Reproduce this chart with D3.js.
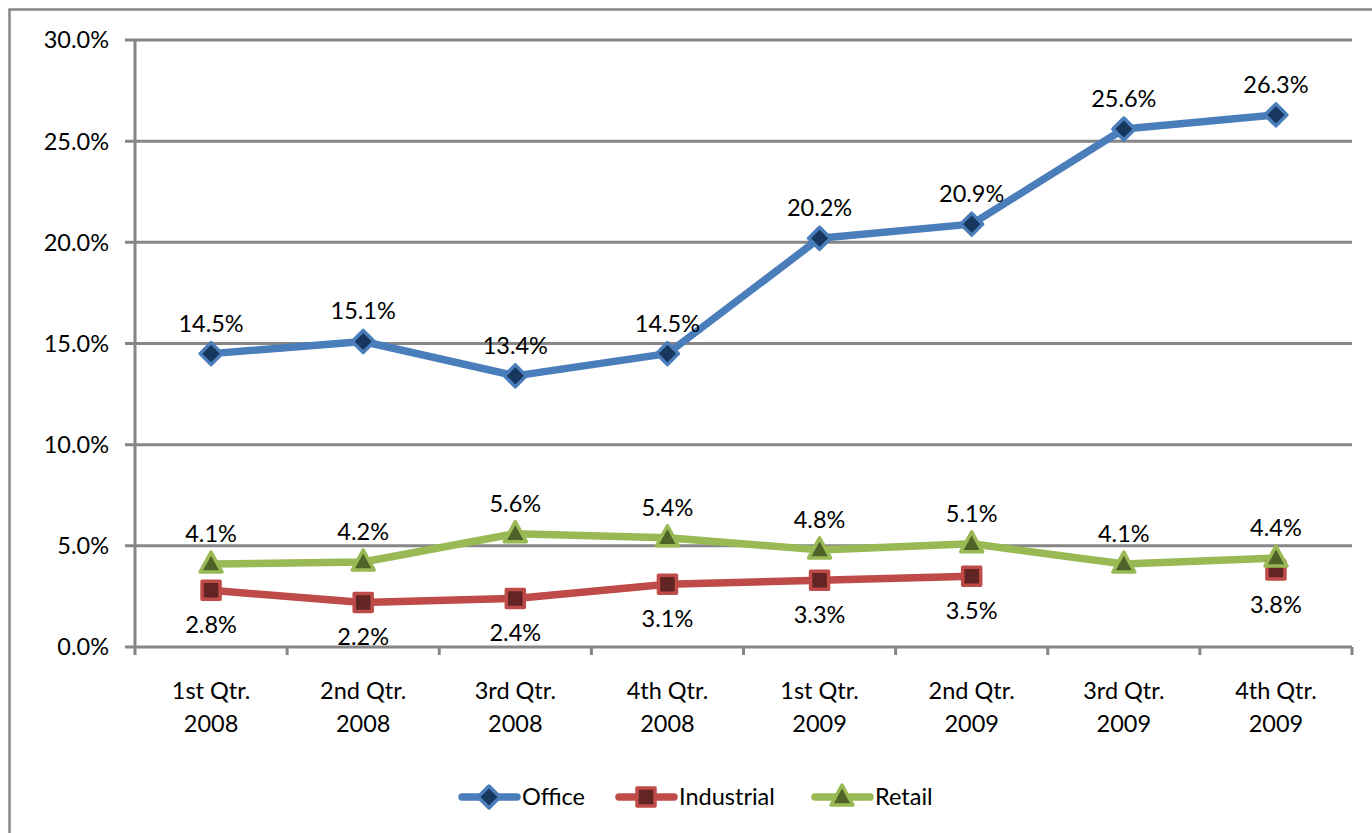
<!DOCTYPE html>
<html>
<head>
<meta charset="utf-8">
<script src="https://cdn.jsdelivr.net/npm/d3@7"></script>
<style>
  body { margin: 0; background: #fff; }
  svg text { font-family: "Lato", "Open Sans", sans-serif; fill: #000; }
</style>
</head>
<body>
<div id="chart"></div>
<script>
// data
var quarters = [["1st Qtr.", "2008"], ["2nd Qtr.", "2008"], ["3rd Qtr.", "2008"], ["4th Qtr.", "2008"],
                ["1st Qtr.", "2009"], ["2nd Qtr.", "2009"], ["3rd Qtr.", "2009"], ["4th Qtr.", "2009"]];
var office     = [14.5, 15.1, 13.4, 14.5, 20.2, 20.9, 25.6, 26.3];
var industrial = [2.8, 2.2, 2.4, 3.1, 3.3, 3.5, null, 3.8];
var retail     = [4.1, 4.2, 5.6, 5.4, 4.8, 5.1, 4.1, 4.4];
var yTicks     = [0, 5, 10, 15, 20, 25, 30];

var width = 1372, height = 833;
var margin = {left: 135, right: 20, top: 40, bottom: 186};

// Style setting
var grid_color = "#868686";
var font_size = "23.5px";
var line_width = 7.5;
var series = [
  {name: "Office", values: office, line: "#4a7ebb", fill: "#17375e", shape: "diamond", labelPos: "above"},
  {name: "Industrial", values: industrial, line: "#be4b48", fill: "#632523", shape: "square", labelPos: "below"},
  {name: "Retail", values: retail, line: "#98b954", fill: "#4f6228", shape: "triangle", labelPos: "above"}
];

var svg = d3.select("#chart").append("svg")
            .attr("width", width)
            .attr("height", height);

// outer frame
svg.append("rect")
   .attr("x", 9.5).attr("y", 9.5)
   .attr("width", width + 20).attr("height", height + 20)
   .attr("fill", "none").attr("stroke", grid_color).attr("stroke-width", 2.5);

var x = d3.scaleBand()
          .domain(d3.range(quarters.length))
          .range([margin.left, width - margin.right]);
var y = d3.scaleLinear()
          .domain([0, 30])
          .range([height - margin.bottom, margin.top]);

// gridlines + y ticks
svg.append("g").selectAll("line")
   .data(yTicks)
   .enter().append("line")
   .attr("x1", margin.left - 10).attr("x2", width - margin.right)
   .attr("y1", function(d) { return y(d); }).attr("y2", function(d) { return y(d); })
   .attr("stroke", grid_color).attr("stroke-width", 3);

svg.append("g").selectAll("text")
   .data(yTicks)
   .enter().append("text")
   .attr("x", margin.left - 26)
   .attr("y", function(d) { return y(d); })
   .attr("dy", "0.36em")
   .attr("text-anchor", "end")
   .style("font-size", font_size)
   .text(function(d) { return d.toFixed(1) + "%"; });

// y axis line
svg.append("line")
   .attr("x1", margin.left).attr("x2", margin.left)
   .attr("y1", y(30)).attr("y2", y(0) + 8)
   .attr("stroke", grid_color).attr("stroke-width", 3);

// x ticks at category boundaries
var bounds = d3.range(quarters.length + 1).map(function(i) {
  return i < quarters.length ? x(i) : x(quarters.length - 1) + x.bandwidth();
});
svg.append("g").selectAll("line")
   .data(bounds.slice(1))
   .enter().append("line")
   .attr("x1", function(d) { return d; }).attr("x2", function(d) { return d; })
   .attr("y1", y(0)).attr("y2", y(0) + 8)
   .attr("stroke", grid_color).attr("stroke-width", 3);

// x labels
var xl = svg.append("g").selectAll("text")
   .data(quarters)
   .enter().append("text")
   .attr("x", function(d, i) { return x(i) + x.bandwidth() / 2; })
   .attr("y", 699)
   .attr("text-anchor", "middle")
   .style("font-size", font_size);
xl.append("tspan").attr("x", function(d, i) { return x(i) + x.bandwidth() / 2; }).text(function(d) { return d[0]; });
xl.append("tspan").attr("x", function(d, i) { return x(i) + x.bandwidth() / 2; }).attr("dy", 33).text(function(d) { return d[1]; });

function markerPath(shape) {
  if (shape === "diamond") return "M0,-11L11,0L0,11L-11,0Z";
  if (shape === "square") return "M-9,-9H9V9H-9Z";
  return "M0,-12L11,8H-11Z";
}

var cx = function(i) { return x(i) + x.bandwidth() / 2; };

series.forEach(function(s) {
  var line = d3.line()
               .defined(function(d) { return d != null; })
               .x(function(d, i) { return cx(i); })
               .y(function(d) { return y(d); });

  svg.append("path")
     .datum(s.values)
     .attr("d", line)
     .attr("fill", "none")
     .attr("stroke", s.line)
     .attr("stroke-width", line_width)
     .attr("stroke-linejoin", "round")
     .attr("stroke-linecap", "round");
});

series.forEach(function(s) {
  var pts = s.values.map(function(v, i) { return {v: v, i: i}; })
                    .filter(function(d) { return d.v != null; });

  svg.append("g").selectAll("path")
     .data(pts)
     .enter().append("path")
     .attr("transform", function(d) { return "translate(" + cx(d.i) + "," + y(d.v) + ")"; })
     .attr("d", markerPath(s.shape))
     .attr("fill", s.fill)
     .attr("stroke", s.line)
     .attr("stroke-width", 3.5)
     .attr("stroke-linejoin", "round");
});

series.forEach(function(s) {
  var pts = s.values.map(function(v, i) { return {v: v, i: i}; })
                    .filter(function(d) { return d.v != null; });

  svg.append("g").selectAll("text")
     .data(pts)
     .enter().append("text")
     .attr("x", function(d) { return cx(d.i); })
     .attr("y", function(d) { return s.labelPos === "above" ? y(d.v) - 22 : y(d.v) + 43; })
     .attr("text-anchor", "middle")
     .style("font-size", font_size)
     .text(function(d) { return d.v.toFixed(1) + "%"; });
});

// legend
var legendX = [459, 616, 812];
var leg = svg.append("g").selectAll("g")
   .data(series)
   .enter().append("g")
   .attr("transform", function(d, i) { return "translate(" + legendX[i] + ",797)"; });
leg.append("line")
   .attr("x1", 3).attr("x2", 58)
   .attr("stroke", function(d) { return d.line; })
   .attr("stroke-width", line_width)
   .attr("stroke-linecap", "round");
leg.append("path")
   .attr("transform", "translate(30,0)")
   .attr("d", function(d) { return markerPath(d.shape); })
   .attr("fill", function(d) { return d.fill; })
   .attr("stroke", function(d) { return d.line; })
   .attr("stroke-width", 3.5)
   .attr("stroke-linejoin", "round");
leg.append("text")
   .attr("x", 63)
   .attr("dy", "0.36em")
   .style("font-size", font_size)
   .text(function(d) { return d.name; });
</script>
</body>
</html>
